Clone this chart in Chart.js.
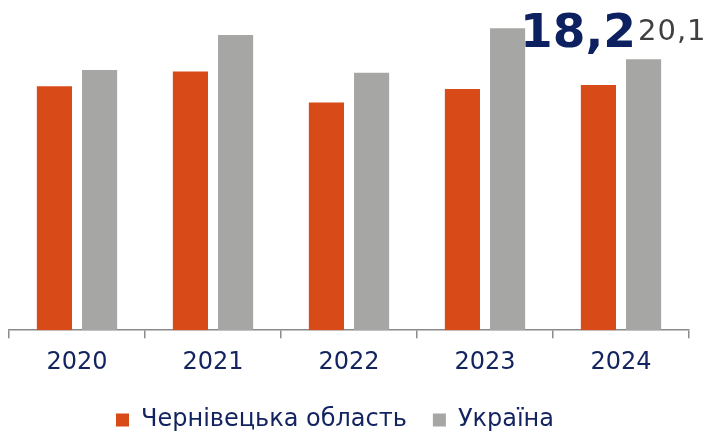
<!DOCTYPE html>
<html>
<head>
<meta charset="utf-8">
<script src="https://cdn.jsdelivr.net/npm/chart.js@4.4.1/dist/chart.umd.min.js"></script>
<style>
  html, body { margin: 0; padding: 0; background: #fff; }
  #wrap { position: relative; width: 712px; height: 432px; overflow: hidden; }
  #c { position: absolute; left: 0; top: 0; }
  .big { position: absolute; left: 520px; top: 3px; font-family: "DejaVu Sans"; font-weight: bold; font-size: 47px; color: #0D2161; white-space: nowrap; }
  .small { position: absolute; left: 638px; top: 13px; font-family: "DejaVu Sans"; font-size: 29px; color: #404040; white-space: nowrap; letter-spacing: 1px; }
</style>
</head>
<body>
<div id="wrap">
  <canvas id="c" width="712" height="432"></canvas>
  <div class="big" id="bigVal"></div>
  <div class="small" id="smallVal"></div>
</div>
<script>
const categories = ["2020", "2021", "2022", "2023", "2024"];
const regionName = "Чернівецька область";
const countryName = "Україна";
const regionValues = [18.1, 19.2, 16.9, 17.9, 18.2];
const countryValues = [19.3, 21.9, 19.1, 22.4, 20.1];

const fmt = v => v.toFixed(1).replace('.', ',');
document.getElementById('bigVal').textContent = fmt(regionValues[regionValues.length - 1]);
document.getElementById('smallVal').textContent = fmt(countryValues[countryValues.length - 1]);

const navy = '#12235F';
const shiftLegend = {
  id: 'shiftLegend',
  afterUpdate(chart) {
    const l = chart.legend;
    if (l) { l.left -= 14; l.right -= 14; }
  }
};
new Chart(document.getElementById('c'), {
  type: 'bar',
  data: {
    labels: categories,
    datasets: [
      { label: regionName, data: regionValues, backgroundColor: '#D84A17', barPercentage: 0.778, categoryPercentage: 0.664 },
      { label: countryName, data: countryValues, backgroundColor: '#A6A6A4', barPercentage: 0.778, categoryPercentage: 0.664 }
    ]
  },
  plugins: [shiftLegend],
  options: {
    responsive: false,
    animation: false,
    devicePixelRatio: 1,
    layout: { padding: { left: 9, right: 23, top: 0, bottom: -10 } },
    scales: {
      x: {
        afterFit(scale) { scale.height -= 5; },
        grid: { offset: true, drawOnChartArea: false, drawTicks: true, tickLength: 8, color: '#8A8A8A', lineWidth: 1.5 },
        border: { display: true, color: '#8A8A8A', width: 1.5 },
        ticks: { color: navy, font: { family: 'DejaVu Sans', size: 24 }, padding: 10 }
      },
      y: {
        display: false,
        min: 0,
        max: 24.5
      }
    },
    plugins: {
      legend: {
        position: 'bottom',
        labels: {
          boxWidth: 13, boxHeight: 13, color: navy,
          font: { family: 'DejaVu Sans', size: 24 },
          padding: 26
        }
      },
      tooltip: { enabled: false }
    }
  }
});
</script>
</body>
</html>
